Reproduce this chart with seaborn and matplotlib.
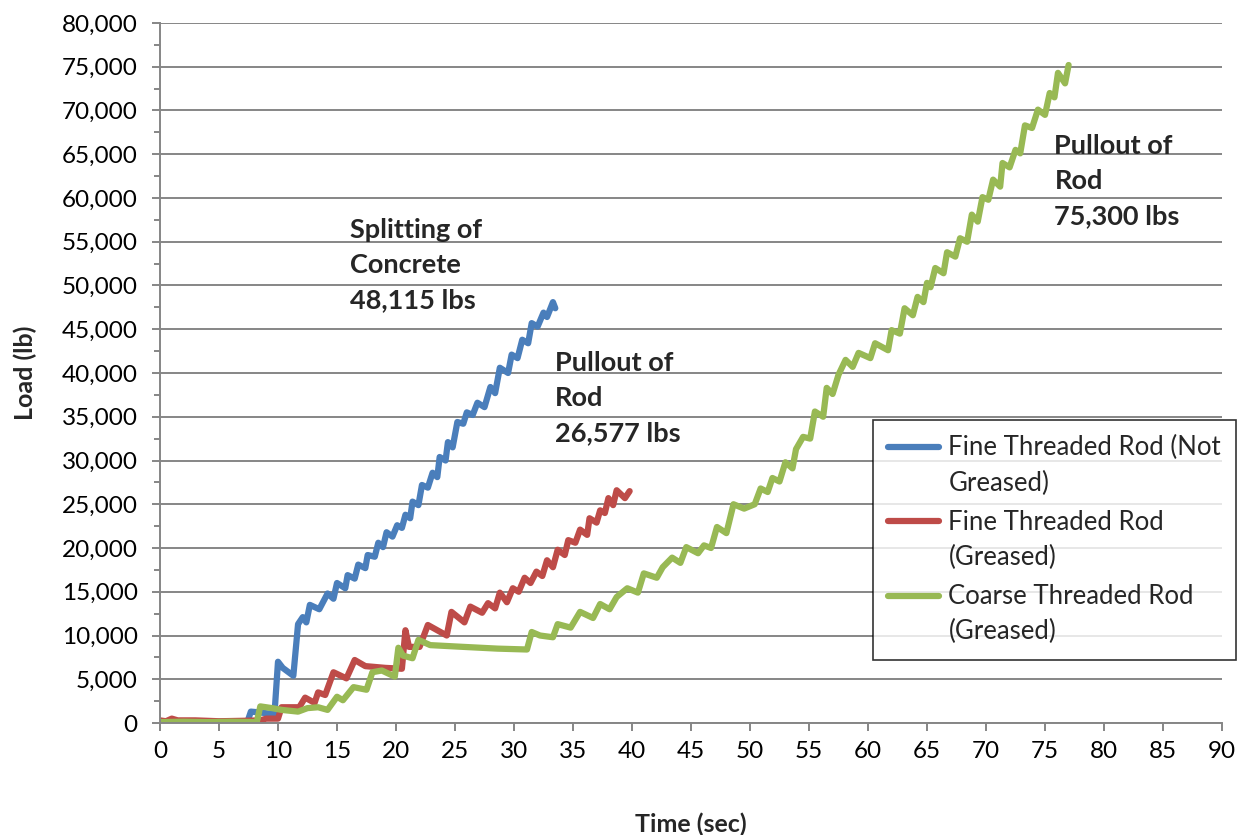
import matplotlib
matplotlib.use('Agg')
import matplotlib.pyplot as plt
import matplotlib.ticker as mticker
from matplotlib.legend_handler import HandlerLine2D
import pandas as pd
import seaborn as sns

# Data (time in sec, load in lb)
fine_ng_time = [0, 2, 4, 6, 7.4, 7.7, 8.5, 9.7, 10.0, 10.4, 11.3, 11.7, 12.1, 12.4, 12.7, 13.5,
                14.2, 14.7, 15.0, 15.7, 15.9, 16.5, 16.8, 17.4, 17.6, 18.2, 18.5, 18.9, 19.2, 19.7,
                20.1, 20.5, 20.8, 21.2, 21.4, 21.9, 22.2, 22.7, 23.1, 23.5, 23.7, 24.2, 24.4, 24.8,
                25.2, 25.7, 26.0, 26.5, 26.9, 27.5, 28.0, 28.4, 28.8, 29.5, 29.8, 30.3, 30.7, 31.2,
                31.5, 32.0, 32.5, 32.8, 33.3, 33.5]
fine_ng_load = [150, 150, 100, 150, 100, 1300, 1200, 1000, 7000, 6300, 5400, 11300, 12100, 11500, 13500, 13000,
                14800, 14200, 16000, 15400, 16900, 16500, 18100, 17700, 19200, 19000, 20600, 20100, 21800, 21300,
                22600, 22300, 23800, 23400, 25300, 24900, 27200, 26900, 28600, 28100, 30400, 30000, 32100, 31500,
                34400, 34200, 35500, 35200, 36600, 36100, 38400, 37700, 40600, 40000, 42100, 41700, 43800, 43400,
                45700, 45300, 46900, 46400, 48100, 47400]

fine_g_time = [0, 0.5, 1.0, 1.5, 3, 5, 7, 8.5, 9.0, 10.0, 10.3, 11.8, 12.3, 13.1, 13.4, 14.0, 14.7, 15.8,
               16.5, 17.4, 19.1, 20.5, 20.8, 21.1, 22.0, 22.7, 24.3, 24.7, 25.8, 26.3, 27.3, 27.8, 28.4,
               28.8, 29.4, 29.9, 30.4, 30.9, 31.4, 31.9, 32.4, 32.8, 33.3, 33.7, 34.3, 34.6, 35.2, 35.6,
               36.2, 36.4, 37.0, 37.3, 37.7, 38.0, 38.4, 38.7, 39.4, 39.8]
fine_g_load = [300, 200, 500, 300, 300, 200, 250, 300, 500, 500, 1800, 1800, 2900, 2300, 3500, 3200, 5800, 5100,
               7200, 6500, 6300, 6200, 10600, 8700, 8700, 11200, 10000, 12700, 11500, 13300, 12600, 13700, 13100,
               14900, 13800, 15400, 15000, 16600, 16000, 17300, 16800, 18600, 17800, 19800, 19200, 20900, 20600, 22100,
               21500, 23400, 22900, 24300, 24000, 25700, 24900, 26600, 25700, 26500]

coarse_g_time = [0, 2, 4, 6, 8.2, 8.5, 9.5, 10.3, 11.7, 12.5, 13.4, 14.2, 15.0, 15.5, 16.4, 17.5, 18.0, 18.8,
                 19.9, 20.2, 20.6, 21.4, 21.9, 22.9, 25.7, 28.6, 31.1, 31.5, 32.2, 33.3, 33.7, 34.8, 35.6,
                 36.7, 37.3, 38.1, 38.7, 39.6, 40.5, 41.0, 42.1, 42.6, 43.4, 44.1, 44.6, 45.6, 46.1, 46.7,
                 47.2, 48.0, 48.6, 49.5, 50.4, 50.9, 51.5, 51.9, 52.5, 53.0, 53.6, 53.9, 54.5, 55.1, 55.5,
                 56.2, 56.5, 57.0, 57.5, 58.1, 58.7, 59.2, 60.2, 60.6, 61.7, 62.0, 62.7, 63.1, 63.8, 64.2,
                 64.7, 65.0, 65.3, 65.7, 66.4, 66.7, 67.4, 67.8, 68.4, 68.8, 69.3, 69.7, 70.2, 70.6, 71.2,
                 71.4, 72.0, 72.5, 72.9, 73.3, 73.9, 74.4, 75.0, 75.4, 75.8, 76.1, 76.7, 77.0]
coarse_g_load = [100, 150, 100, 150, 100, 1900, 1700, 1500, 1300, 1700, 1800, 1500, 3000, 2600, 4100, 3800, 5800, 6000,
                 5300, 8600, 7700, 7400, 9500, 8900, 8700, 8500, 8400, 10400, 10000, 9800, 11300, 10900, 12700,
                 12000, 13600, 13000, 14400, 15400, 14900, 17100, 16600, 17800, 18900, 18300, 20100, 19400, 20300, 20000,
                 22400, 21700, 25000, 24500, 25000, 26800, 26400, 28000, 27600, 29800, 29100, 31300, 32700, 32500, 35600,
                 35000, 38300, 37600, 39800, 41500, 40700, 42300, 41700, 43400, 42600, 44900, 44500, 47400, 46600, 48700,
                 48100, 50300, 49800, 52000, 51400, 53800, 53300, 55400, 55000, 58100, 57300, 60100, 59800, 62100, 61300,
                 64000, 63500, 65500, 65100, 68300, 68000, 70100, 69500, 72000, 71500, 74300, 73100, 75200]

series_names = ['Fine Threaded Rod (Not\nGreased)', 'Fine Threaded Rod\n(Greased)', 'Coarse Threaded Rod\n(Greased)']
series_colors = ['#4A7EBB', '#BE4B48', '#98B954']

frames = []
for name, t, load in zip(series_names,
                         [fine_ng_time, fine_g_time, coarse_g_time],
                         [fine_ng_load, fine_g_load, coarse_g_load]):
    frames.append(pd.DataFrame({'Time': t, 'Load': load, 'Series': name}))
df = pd.concat(frames, ignore_index=True)

sns.set_style('white')
plt.rcParams['font.family'] = ['Lato', 'DejaVu Sans']

fig = plt.figure(figsize=(12.45, 8.35), dpi=100)
ax = fig.add_axes([160 / 1245, 1 - 723 / 835, 1062 / 1245, 700 / 835])

sns.lineplot(data=df, x='Time', y='Load', hue='Series', hue_order=series_names,
             palette=series_colors, estimator=None, sort=False, linewidth=4.5, ax=ax,
             solid_joinstyle='round', solid_capstyle='round')

ax.set_xlim(0, 90)
ax.set_ylim(0, 80000)
ax.set_xticks(range(0, 91, 5))
ax.set_yticks(range(0, 80001, 5000))
ax.yaxis.set_minor_locator(mticker.MultipleLocator(2500))
ax.yaxis.set_major_formatter(mticker.FuncFormatter(lambda v, p: f'{int(v):,}'))

grid_col = '#868686'
ax.grid(axis='y', color=grid_col, linewidth=1.4)
ax.set_axisbelow(True)
for s in ['top', 'right']:
    ax.spines[s].set_visible(False)
for s in ['left', 'bottom']:
    ax.spines[s].set_color(grid_col)
    ax.spines[s].set_linewidth(1.4)
ax.tick_params(axis='both', which='major', direction='out', length=6, width=1.4,
               color=grid_col, labelsize=17.5, labelcolor='black', pad=7)
ax.tick_params(axis='y', which='major', pad=10)
ax.tick_params(axis='y', which='minor', direction='out', length=4, width=1.4, color=grid_col, left=True)
ax.tick_params(axis='x', which='major', bottom=True)
ax.tick_params(axis='y', which='major', left=True)

ax.set_xlabel('Time (sec)', fontsize=18, fontweight='bold', labelpad=36)
ax.set_ylabel('Load (lb)', fontsize=18, fontweight='bold', labelpad=18)

ann = dict(fontsize=19.5, fontweight='bold', va='top', ha='left', linespacing=1.55)
ax.text(16.1, 57700, 'Splitting of\nConcrete\n48,115 lbs', **ann)
ax.text(33.5, 42500, 'Pullout of\nRod\n26,577 lbs', **ann)
ax.text(75.8, 67300, 'Pullout of\nRod\n75,300 lbs', **ann)


# legend line sits next to the first line of each two-line label
class FirstLineHandler(HandlerLine2D):
    def create_artists(self, legend, orig_handle, xdescent, ydescent, width, height, fontsize, trans):
        artists = super().create_artists(legend, orig_handle, xdescent, ydescent,
                                         width, height, fontsize, trans)
        for a in artists:
            a.set_ydata([y + fontsize * 0.75 for y in a.get_ydata()])
        return artists


handles, labels = ax.get_legend_handles_labels()
leg = ax.legend(handles, labels, loc='upper left', bbox_to_anchor=(0.671, 0.433), borderaxespad=0,
                fontsize=18.5, frameon=True, fancybox=False, edgecolor='black',
                handlelength=2.0, handletextpad=0.35, labelspacing=0.55, borderpad=0.6,
                handler_map={h: FirstLineHandler() for h in handles})
leg.get_frame().set_linewidth(1.2)
for txt in leg.get_texts():
    txt.set_linespacing(1.5)

fig.savefig('out.png', dpi=100)
